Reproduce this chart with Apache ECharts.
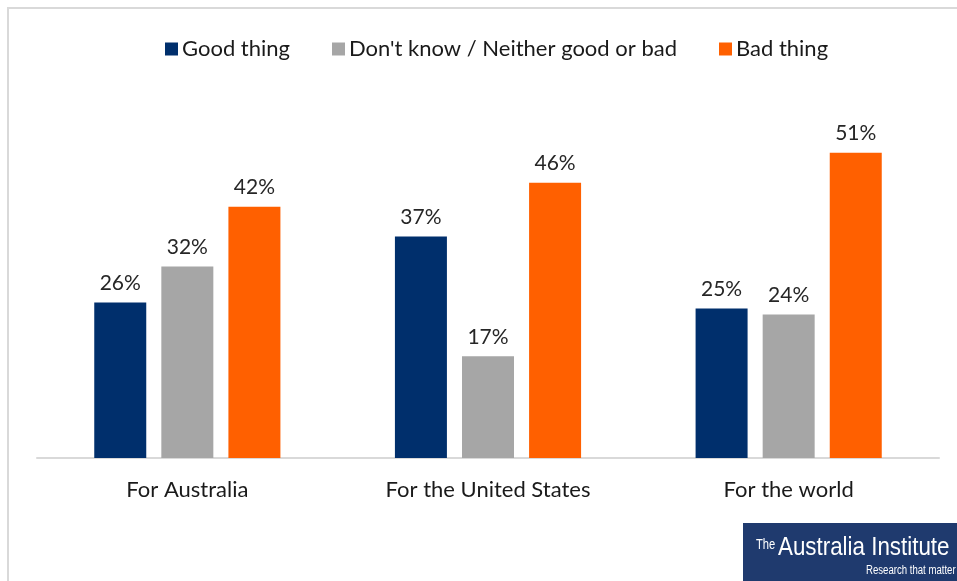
<!DOCTYPE html>
<html><head><meta charset="utf-8">
<script src="https://cdn.jsdelivr.net/npm/echarts@6/dist/echarts.min.js"></script>
<style>html,body{margin:0;padding:0;background:#fff}#c{width:957px;height:581px}</style>
</head><body><div id="c"></div>
<script>
const categories = ['For Australia', 'For the United States', 'For the world'];
const goodThing = [26, 37, 25];
const neither = [32, 17, 24];
const badThing = [42, 46, 51];
const seriesNames = ['Good thing', "Don't know / Neither good or bad", 'Bad thing'];
const colors = ['#002F6C', '#A6A6A6', '#FF6000'];

const font = 'Lato, "Noto Sans", sans-serif';
const chart = echarts.init(document.getElementById('c'));
const mk = (name, data, color) => ({
  name, type: 'bar', data, barWidth: 52, barGap: '29%',
  itemStyle: { color },
  label: { show: true, position: 'top', distance: 9, formatter: '{c}%', color: '#262626', fontSize: 21, fontFamily: font }
});
chart.setOption({
  animation: false,
  color: colors,
  legend: {
    top: 33, left: 160, itemWidth: 13, itemHeight: 13, itemGap: 42,
    icon: 'rect',
    textStyle: { fontSize: 22, color: '#1a1a1a', fontFamily: font, padding: [0, 0, 0, -1] },
    data: seriesNames
  },
  grid: { left: 37, right: 18, top: 99, bottom: 123 },
  xAxis: {
    type: 'category', data: categories,
    axisLine: { lineStyle: { color: '#d9d9d9', width: 2 } },
    axisTick: { show: false },
    axisLabel: { fontSize: 22, color: '#1a1a1a', fontFamily: font, margin: 21 }
  },
  yAxis: { type: 'value', min: 0, max: 60, show: false, splitLine: { show: false } },
  series: [mk(seriesNames[0], goodThing, colors[0]), mk(seriesNames[1], neither, colors[1]), mk(seriesNames[2], badThing, colors[2])],
  graphic: [
    { type: 'rect', shape: { x: 8, y: 8, width: 1000, height: 700 }, style: { fill: 'none', stroke: '#d9d9d9', lineWidth: 2 }, silent: true },
    { type: 'rect', shape: { x: 743, y: 523, width: 220, height: 60 }, style: { fill: '#1F3A6E' } },
    { type: 'text', x: 756, y: 538, scaleX: 0.8, style: { text: 'The', fill: '#fff', font: '14px "Liberation Sans", sans-serif' } },
    { type: 'text', x: 778, y: 535, scaleX: 0.86, style: { text: 'Australia Institute', fill: '#fff', font: '26px "Liberation Sans", sans-serif' } },
    { type: 'text', x: 866, y: 565, scaleX: 0.8, style: { text: 'Research that matter', fill: '#fff', font: '12px "Liberation Sans", sans-serif' } }
  ]
});
</script></body></html>
